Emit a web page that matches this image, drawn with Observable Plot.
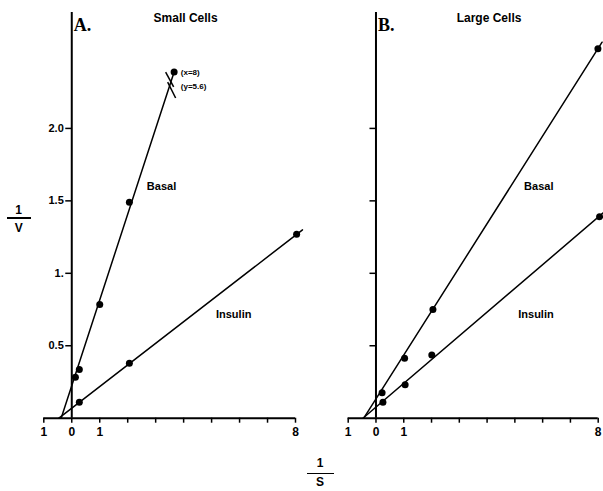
<!DOCTYPE html>
<html><head><meta charset="utf-8">
<script src="https://cdn.jsdelivr.net/npm/d3@7"></script>
<script src="https://cdn.jsdelivr.net/npm/@observablehq/plot@0.6"></script>
<style>
body{margin:0;background:#fff;}
#wrap{position:relative;width:603px;height:491px;font-family:"Liberation Sans",Arial,sans-serif;color:#000;}
.panel{position:absolute;top:0;}
.t{position:absolute;font-weight:bold;font-size:12px;line-height:12px;text-align:center;}
.bar{position:absolute;height:1.6px;background:#000;}
</style></head><body><div id="wrap"></div>
<script>
// ---- axis ticks ----
const xTicks = [-1, 0, 1, 2, 3, 4, 5, 6, 7, 8];
const xTickLabels = ["1", "0", "1", "", "", "", "", "", "", "8"];
const yTicks = [0.5, 1, 1.5, 2];
const yTickLabels = ["0.5", "1.", "1.5", "2.0"];

// ---- Panel A: Small Cells ----
const smallBasalX = [0.13, 0.27, 1.0, 2.06];
const smallBasalY = [0.283, 0.336, 0.784, 1.49];
const smallBasalOffScale = {x: 8, y: 5.6};          // true value of the off-scale point
const smallBasalBreakAt = {x: 3.66, y: 2.39};       // where it is drawn, past the axis break
const smallBasalFit = [[-0.38, 0], [3.66, 2.39]];
const smallInsulinX = [0.27, 2.06, 8.04];
const smallInsulinY = [0.11, 0.38, 1.27];
const smallInsulinFit = [[-0.46, 0], [8.25, 1.30]];

// ---- Panel B: Large Cells ----
const largeBasalX = [0.22, 1.03, 2.05, 7.99];
const largeBasalY = [0.175, 0.414, 0.75, 2.55];
const largeBasalFit = [[-0.44, 0], [8.14, 2.595]];
const largeInsulinX = [0.25, 1.05, 2.01, 8.05];
const largeInsulinY = [0.11, 0.23, 0.437, 1.39];
const largeInsulinFit = [[-0.47, 0], [8.2, 1.42]];

const H = 491, MT = 12, MB = 73.3;

function dots(X, Y) {
  return Plot.dot(d3.range(X.length), {x: i => X[i], y: i => Y[i], r: 3.5, fill: "black", stroke: "none"});
}
function fit(P) {
  return Plot.line(P, {x: d => d[0], y: d => d[1], stroke: "black", strokeWidth: 1.5});
}

function panel({width, marginLeft, marginRight, showY, letter, title, extra}) {
  const unit = (width - marginLeft - marginRight) / (xTicks[xTicks.length - 1] - xTicks[0]);
  const dx0 = unit * (0 - xTicks[0]);
  return Plot.plot({
    width, height: H, marginLeft, marginRight, marginTop: MT, marginBottom: MB,
    x: {domain: [-1, 8]},
    y: {domain: [0, 2.8]},
    style: {fontFamily: "'Liberation Sans', Arial, sans-serif", fontSize: "11px", fontWeight: "bold", background: "transparent", overflow: "visible"},
    marks: [
      Plot.axisX(xTicks, {tickSize: 5, tickPadding: 4, strokeWidth: 1.5, fontSize: 12,
        tickFormat: d => xTickLabels[xTicks.indexOf(d)], label: null}),
      Plot.axisY(yTicks, {dx: dx0, tickSize: 6, tickPadding: 2, strokeWidth: 1.5, fontSize: 11,
        tickFormat: d => showY ? yTickLabels[yTicks.indexOf(d)] : "", label: null}),
      Plot.ruleY([0], {x1: -1, x2: 8, strokeWidth: 2}),
      Plot.ruleX([0], {y1: 0, y2: 2.8, strokeWidth: 2}),
      Plot.text([letter], {x: 0.07, y: 2.715, textAnchor: "start", fontFamily: "'Liberation Serif', 'DejaVu Serif', serif", fontSize: 18, fontWeight: "bold"}),
      Plot.text([title], {x: 4.07, y: 2.763, fontSize: 12, fontWeight: "bold"}),
      ...extra
    ]
  });
}

const A = panel({
  width: 310, marginLeft: 43.3, marginRight: 15, showY: true, letter: "A.", title: "Small Cells",
  extra: [
    fit(smallBasalFit), fit(smallInsulinFit),
    dots(smallBasalX, smallBasalY), dots(smallInsulinX, smallInsulinY),
    Plot.dot([smallBasalBreakAt], {x: "x", y: "y", r: 3.5, fill: "black"}),
    Plot.link([[3.357, 2.389, 3.643, 2.286], [3.429, 2.32, 3.714, 2.21]], {x1: d => d[0], y1: d => d[1], x2: d => d[2], y2: d => d[3], strokeWidth: 1.5}),
    Plot.text([`(x=${smallBasalOffScale.x})`], {x: 3.9, y: 2.384, textAnchor: "start", fontSize: 8, fontWeight: "bold"}),
    Plot.text([`(y=${smallBasalOffScale.y})`], {x: 3.9, y: 2.288, textAnchor: "start", fontSize: 8, fontWeight: "bold"}),
    Plot.text(["Basal"], {x: 3.21, y: 1.6, fontSize: 11, fontWeight: "bold"}),
    Plot.text(["Insulin"], {x: 5.79, y: 0.715, fontSize: 11, fontWeight: "bold"})
  ]
});
const B = panel({
  width: 303, marginLeft: 47.7, marginRight: 5.3, showY: false, letter: "B.", title: "Large Cells",
  extra: [
    fit(largeBasalFit), fit(largeInsulinFit),
    dots(largeBasalX, largeBasalY), dots(largeInsulinX, largeInsulinY),
    Plot.text(["Basal"], {x: 5.86, y: 1.6, fontSize: 11, fontWeight: "bold"}),
    Plot.text(["Insulin"], {x: 5.76, y: 0.715, fontSize: 11, fontWeight: "bold"})
  ]
});

const wrap = document.getElementById("wrap");
A.classList.add("panel"); A.style.left = "0px";
B.classList.add("panel"); B.style.left = "300px";
wrap.appendChild(A); wrap.appendChild(B);

function frac(cx, topNum, barY, topDen, den, w) {
  const n = document.createElement("div");
  n.className = "t"; n.textContent = "1";
  n.style.left = (cx - 15) + "px"; n.style.width = "30px"; n.style.top = topNum + "px";
  const b = document.createElement("div");
  b.className = "bar"; b.style.left = (cx - w / 2) + "px"; b.style.width = w + "px"; b.style.top = barY + "px";
  const d = document.createElement("div");
  d.className = "t"; d.textContent = den;
  d.style.left = (cx - 15) + "px"; d.style.width = "30px"; d.style.top = topDen + "px";
  wrap.append(n, b, d);
}
frac(18.7, 204, 217.2, 222, "V", 24);
frac(320, 457, 472.5, 476, "S", 27);
</script></body></html>
